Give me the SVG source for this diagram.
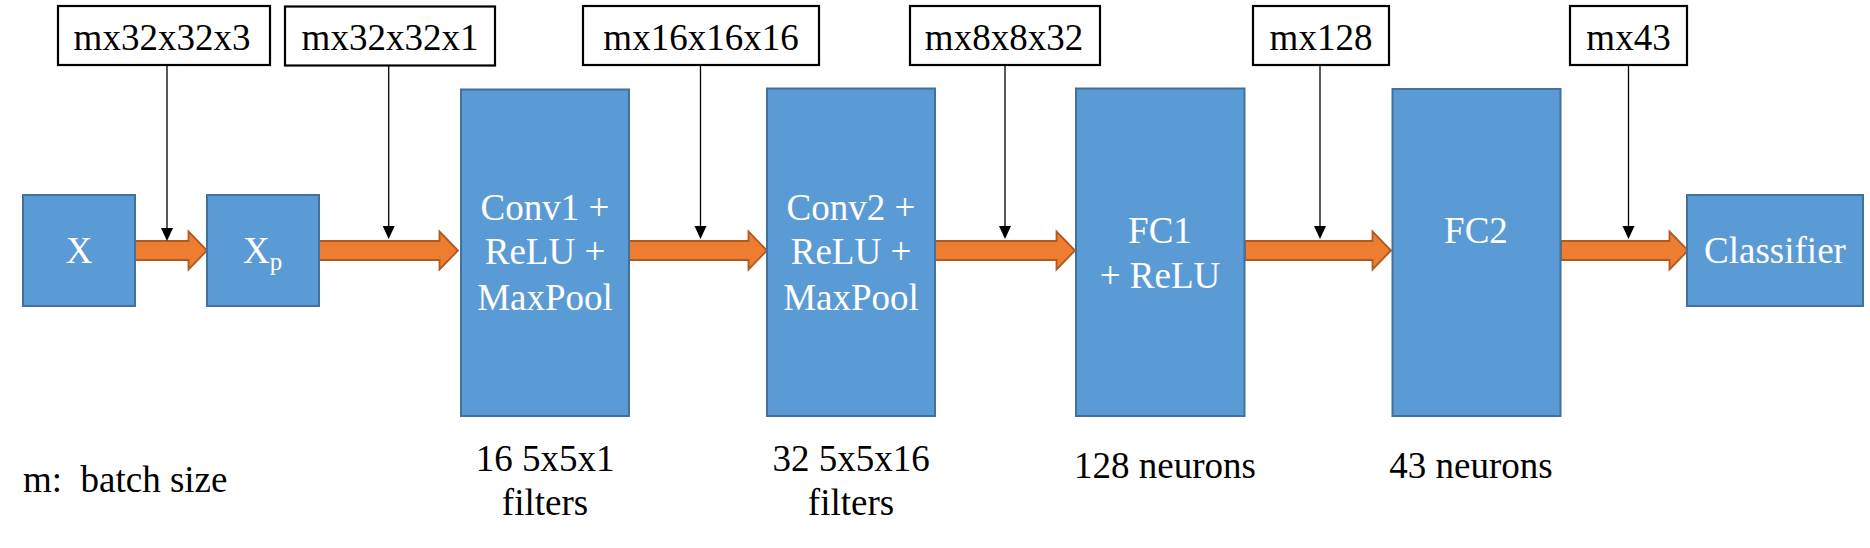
<svg xmlns="http://www.w3.org/2000/svg" width="1870" height="548" viewBox="0 0 1870 548">
<defs>
<style>
.node{fill:#5B9BD5;stroke:#41719C;stroke-width:2}
.lbl{fill:#fff;stroke:#000;stroke-width:2.2}
.t{font-family:"Liberation Serif","Times New Roman",serif;font-size:37px;text-anchor:middle;fill:#000}
.w{fill:#fff}
.blk{fill:#ED7D31;stroke:#AE5A21;stroke-width:1.8}
.ln{stroke:#000;stroke-width:1.3;fill:none}
</style>
</defs>
<rect width="1870" height="548" fill="#fff"/>

<g id="connectors">
<path class="blk" d="M134,241 H188.5 V231.5 L207,250.5 L188.5,269.5 V260 H134 Z"/>
<path class="blk" d="M319,241 H439.5 V231.5 L458,250.5 L439.5,269.5 V260 H319 Z"/>
<path class="blk" d="M629,241 H748.5 V231.5 L767,250.5 L748.5,269.5 V260 H629 Z"/>
<path class="blk" d="M935,241 H1056.5 V231.5 L1075,250.5 L1056.5,269.5 V260 H935 Z"/>
<path class="blk" d="M1245,241 H1372.5 V231.5 L1391,250.5 L1372.5,269.5 V260 H1245 Z"/>
<path class="blk" d="M1561,241 H1669.5 V231.5 L1688,250.5 L1669.5,269.5 V260 H1561 Z"/>
<g class="ln">
<path d="M167,65 V228"/>
<path d="M388.7,65 V226"/>
<path d="M700.5,65 V226"/>
<path d="M1005,65 V226"/>
<path d="M1320,65 V226"/>
<path d="M1628.5,65 V226"/>
</g>
<g fill="#000">
<path d="M161,228 H173 L167,241 Z"/>
<path d="M382.7,226 H394.7 L388.7,239 Z"/>
<path d="M694.5,226 H706.5 L700.5,239 Z"/>
<path d="M999,226 H1011 L1005,239 Z"/>
<path d="M1314,226 H1326 L1320,239 Z"/>
<path d="M1622.5,226 H1634.5 L1628.5,239 Z"/>
</g>
</g>

<g id="shape-labels">
<g id="lbl1"><rect class="lbl" x="58" y="6" width="212" height="59"/><text class="t" x="162" y="49.5">mx32x32x3</text></g>
<g id="lbl2"><rect class="lbl" x="285" y="6.5" width="210" height="59"/><text class="t" x="390" y="49.5">mx32x32x1</text></g>
<g id="lbl3"><rect class="lbl" x="583" y="6" width="236" height="59"/><text class="t" x="701" y="49.5">mx16x16x16</text></g>
<g id="lbl4"><rect class="lbl" x="910" y="6" width="190" height="59"/><text class="t" x="1004" y="49.5">mx8x8x32</text></g>
<g id="lbl5"><rect class="lbl" x="1253" y="6" width="136" height="59"/><text class="t" x="1321" y="49.5">mx128</text></g>
<g id="lbl6"><rect class="lbl" x="1570" y="6" width="117" height="59"/><text class="t" x="1628.5" y="49.5">mx43</text></g>
</g>

<g id="node-x"><rect class="node" x="23" y="195" width="112" height="111"/><text class="t w" x="79" y="263">X</text></g>
<g id="node-xp"><rect class="node" x="207" y="195" width="112" height="111"/><text class="t w" x="243" y="263" style="text-anchor:start">X<tspan font-size="25" dy="7">p</tspan></text></g>
<g id="node-conv1"><rect class="node" x="461" y="89.5" width="168" height="326.5"/>
<text class="t w" x="545" y="220">Conv1 +</text><text class="t w" x="545" y="264">ReLU +</text><text class="t w" x="545" y="310">MaxPool</text></g>
<g id="node-conv2"><rect class="node" x="767" y="88.5" width="168" height="327.5"/>
<text class="t w" x="851" y="220">Conv2 +</text><text class="t w" x="851" y="264">ReLU +</text><text class="t w" x="851" y="310">MaxPool</text></g>
<g id="node-fc1"><rect class="node" x="1076" y="88.5" width="168.5" height="327.5"/>
<text class="t w" x="1160" y="243">FC1</text><text class="t w" x="1160" y="288">+ ReLU</text></g>
<g id="node-fc2"><rect class="node" x="1392.5" y="89" width="168" height="327"/>
<text class="t w" x="1476" y="243">FC2</text></g>
<g id="node-classifier"><rect class="node" x="1687" y="195" width="176" height="111"/><text class="t w" x="1775" y="263">Classifier</text></g>

<g id="annotations">
<text class="t" x="545" y="471">16 5x5x1</text><text class="t" x="545" y="515">filters</text>
<text class="t" x="851" y="471">32 5x5x16</text><text class="t" x="851" y="515">filters</text>
<text class="t" x="1165" y="478">128 neurons</text>
<text class="t" x="1471" y="478">43 neurons</text>
<text class="t" x="23" y="492" style="text-anchor:start;white-space:pre">m:  batch size</text>
</g>
</svg>
